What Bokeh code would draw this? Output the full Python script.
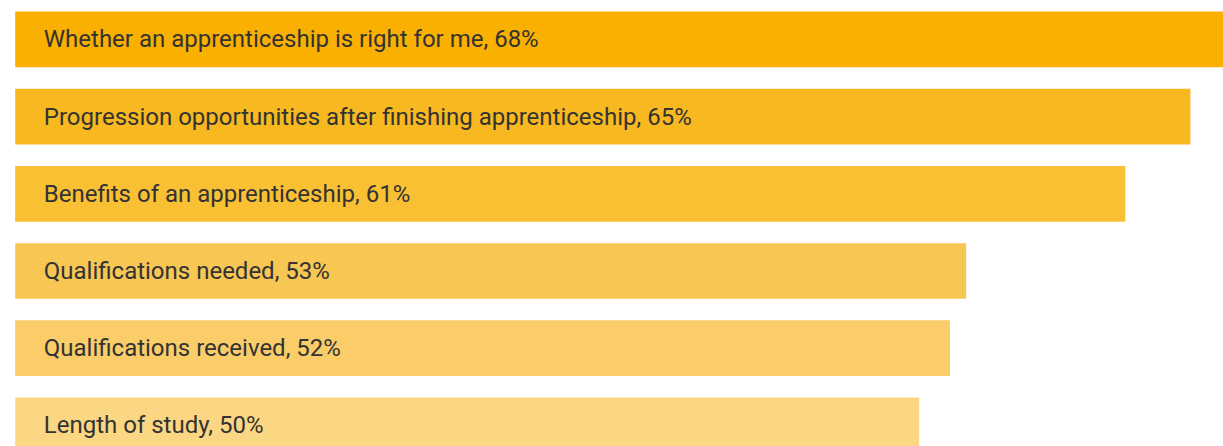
from bokeh.plotting import figure
from bokeh.models import Range1d, ColumnDataSource
from bokeh.core.properties import value
from bokeh.embed import file_html
from bokeh.resources import INLINE

categories = [
    "Whether an apprenticeship is right for me",
    "Progression opportunities after finishing apprenticeship",
    "Benefits of an apprenticeship",
    "Qualifications needed",
    "Qualifications received",
    "Length of study",
]
values = [68.0, 65.0, 61.4, 52.6, 51.7, 50.0]
labels = [f"{c}, {round(v)}%" for c, v in zip(categories, values)]
colors = ["#F9B000", "#F8B81F", "#F9C034", "#F8C653", "#FACD69", "#FBD784"]

pos = list(range(len(categories)))
src = ColumnDataSource(dict(y=pos, v=values, lab=labels, col=colors))

p = figure(width=1223, height=446, output_backend="svg", toolbar_location=None,
           x_range=Range1d(-0.813, 66.83), y_range=Range1d(5.273, -0.504),
           min_border=0, min_border_left=0, min_border_right=0,
           min_border_top=0, min_border_bottom=0)
p.axis.visible = False
p.grid.visible = False
p.outline_line_color = None
p.background_fill_color = "white"
p.border_fill_color = "white"

p.hbar(y="y", left=0, right="v", height=0.7215, fill_color="col",
       line_color=None, source=src)
p.text(x=0, y="y", text="lab", source=src, x_offset=28.6,
       text_font=value("Roboto"), text_font_size="24px",
       text_color="#333333", text_baseline="middle", text_align="left")

open("out.html", "w").write(file_html(p, INLINE))
